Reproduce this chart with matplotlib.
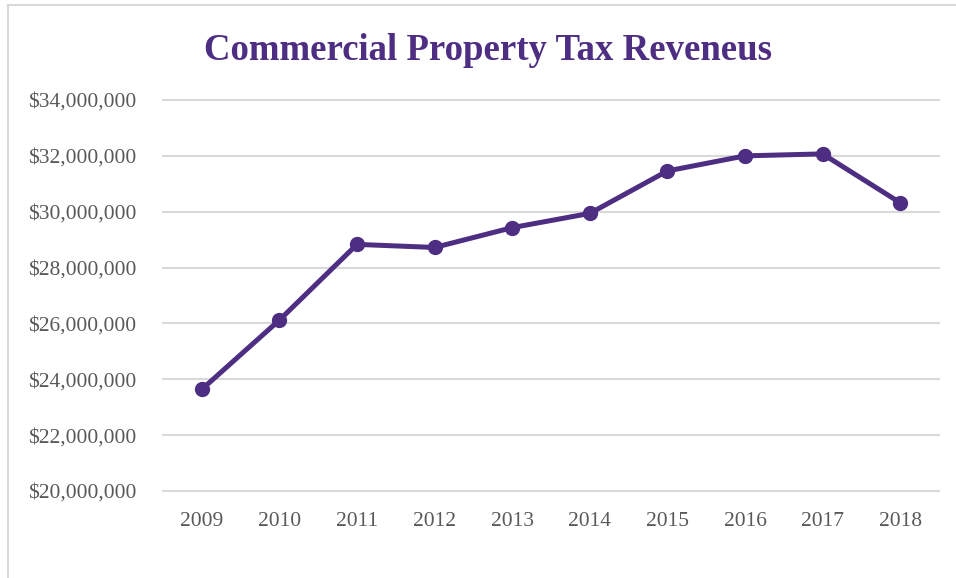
import matplotlib.pyplot as plt
from matplotlib.patches import Rectangle
from matplotlib.ticker import FuncFormatter

years = ["2009", "2010", "2011", "2012", "2013", "2014", "2015", "2016", "2017", "2018"]
revenue = [23640000, 26120000, 28830000, 28720000, 29430000,
           29940000, 31460000, 32000000, 32070000, 30320000]
y_ticks = [20000000, 22000000, 24000000, 26000000, 28000000, 30000000, 32000000, 34000000]

purple = "#4e2e82"
gray_text = "#595959"

plt.rcParams["font.family"] = ["Liberation Serif", "DejaVu Serif"]

W, H = 956, 578
fig = plt.figure(figsize=(W / 100, H / 100), dpi=100)

# chart frame (cropped on right/bottom)
fig.patches.append(Rectangle((8 / W, -0.1), 1.2, 1 - 5 / H + 0.1, transform=fig.transFigure,
                             fill=False, edgecolor="#d9d9d9", linewidth=1.5))

ax = fig.add_axes([163 / W, 1 - 491 / H, (939 - 163) / W, (491 - 100) / H])
x = range(len(years))
ax.plot(x, revenue, color=purple, linewidth=3.6, marker="o", markersize=10,
        solid_capstyle="round", zorder=3)

ax.set_xlim(-0.5, len(years) - 0.5)
ax.set_ylim(y_ticks[0], y_ticks[-1])
ax.set_xticks(list(x))
ax.set_xticklabels(years)
ax.set_yticks(y_ticks)
ax.yaxis.set_major_formatter(FuncFormatter(lambda v, p: f"${v:,.0f}"))

ax.grid(axis="y", color="#d9d9d9", linewidth=1.5, clip_on=False)
ax.set_axisbelow(True)
for s in ax.spines.values():
    s.set_visible(False)
ax.tick_params(length=0, labelsize=15.5, colors=gray_text)
ax.tick_params(axis="x", pad=15)
ax.tick_params(axis="y", pad=19)

fig.text(488 / W, 1 - 50 / H, "Commercial Property Tax Reveneus", ha="center", va="center",
         fontsize=26.5, fontweight="bold", color=purple)

fig.savefig("out.png", dpi=100)
